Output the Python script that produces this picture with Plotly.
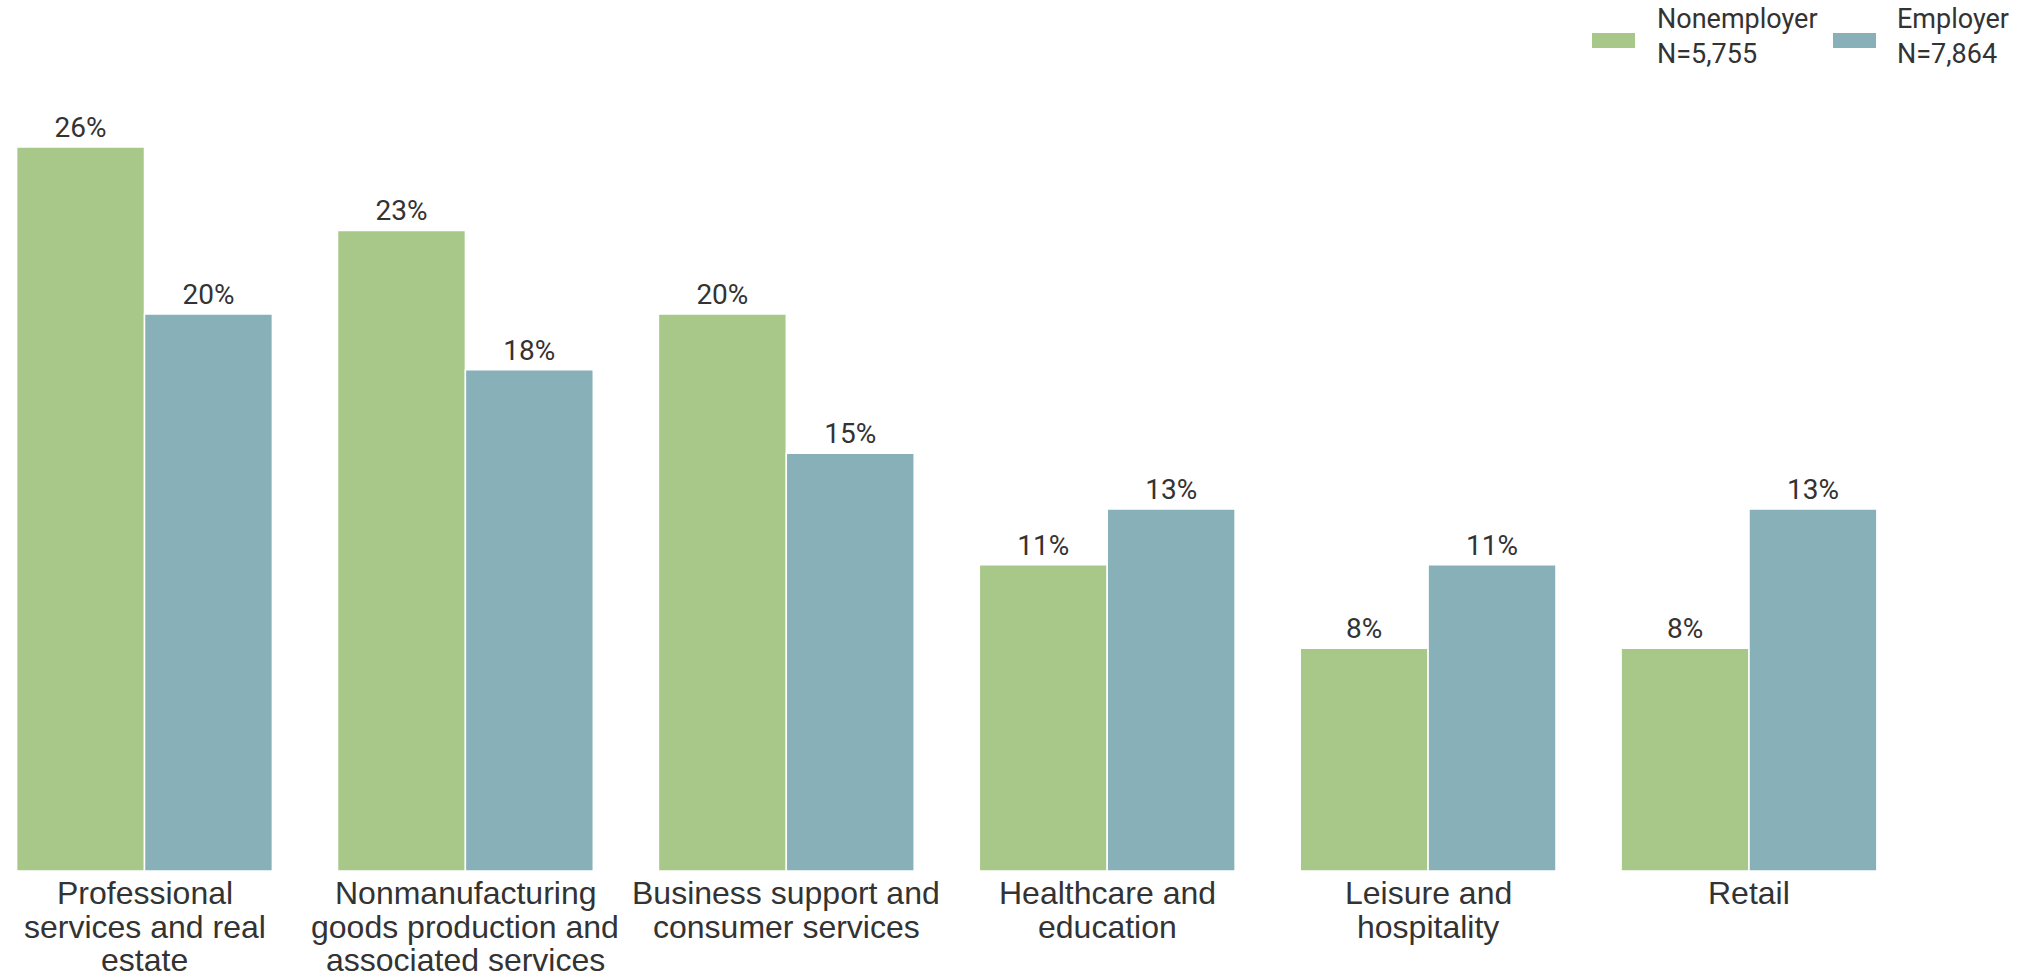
import plotly.graph_objects as go

# Share of businesses by industry group
categories = [
    "Professional<br>services and real<br>estate",
    "Nonmanufacturing<br>goods production and<br>associated services",
    "Business support and<br>consumer services",
    "Healthcare and<br>education",
    "Leisure and<br>hospitality",
    "Retail",
]
series_names = ["Nonemployer", "Employer"]
series_counts = ["N=5,755", "N=7,864"]
nonemployer = [26, 23, 20, 11, 8, 8]
employer = [20, 18, 15, 13, 11, 13]

colors = ["#A8C889", "#87B0B8"]
text_color = "#333333"

W, H = 2039, 977
bottom = 106
plot_h = H - bottom
px_per_pct = 27.85
group_step = 320.9
first_center = 144.5

x_idx = list(range(len(categories)))

fig = go.Figure()
for name, vals, col in zip(series_names, [nonemployer, employer], colors):
    fig.add_trace(go.Bar(
        x=x_idx,
        y=vals,
        name=name,
        marker=dict(color=col, line=dict(color="white", width=1.5)),
        text=[f"{v}%" for v in vals],
        textposition="outside",
        textfont=dict(family="Roboto", size=28, color=text_color),
        cliponaxis=False,
        showlegend=False,
    ))

x_lo = -first_center / group_step
x_hi = (W - first_center) / group_step

fig.update_layout(
    width=W,
    height=H,
    margin=dict(l=0, r=0, t=0, b=bottom),
    barmode="group",
    bargap=0.203,
    bargroupgap=0,
    plot_bgcolor="white",
    paper_bgcolor="white",
    xaxis=dict(
        range=[x_lo, x_hi],
        tickvals=x_idx,
        showticklabels=False,
        showgrid=False,
        zeroline=False,
        showline=False,
        ticks="",
    ),
    yaxis=dict(
        range=[0, plot_h / px_per_pct],
        visible=False,
        showgrid=False,
        zeroline=False,
    ),
)

# Category labels, one text line at a time for tighter line spacing
label_size = 32
line_step = 33.5
for i, label in enumerate(categories):
    for k, line in enumerate(label.split("<br>")):
        fig.add_annotation(
            x=i, xref="x", y=0, yref="paper",
            xanchor="center", yanchor="middle",
            yshift=-(22 + k * line_step),
            text=line, showarrow=False,
            font=dict(family="Liberation Sans, Arial", size=label_size, color=text_color),
        )

# Legend drawn as wide swatches with two-line labels
legend_items = [
    (1592, 1655),
    (1833, 1895),
]
for (sx, tx), name, count, col in zip(legend_items, series_names, series_counts, colors):
    fig.add_shape(
        type="rect", xref="paper", yref="paper",
        x0=sx / W, x1=(sx + 43) / W,
        y0=1 - 48 / plot_h, y1=1 - 33 / plot_h,
        fillcolor=col, line=dict(width=0),
    )
    fig.add_annotation(
        xref="paper", yref="paper",
        x=tx / W, y=1 - 37 / plot_h,
        xanchor="left", yanchor="middle",
        text=f"{name}<br>{count}",
        align="left",
        showarrow=False,
        font=dict(family="Roboto", size=27, color=text_color),
    )

fig.write_html("out.html")
